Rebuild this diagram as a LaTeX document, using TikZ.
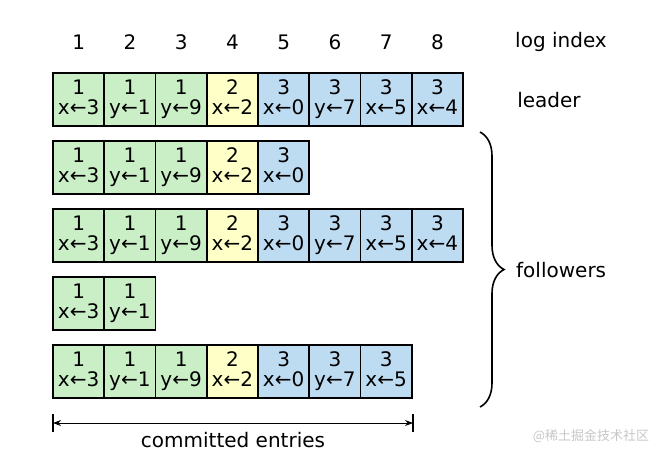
\documentclass[tikz,border=0pt]{standalone}
\usepackage{fontspec}
\setmainfont{DejaVu Sans}
\newfontfamily\cjkwm{Noto Sans CJK SC}
\usetikzlibrary{decorations.pathreplacing,arrows.meta}
\definecolor{tgreen}{HTML}{CAEFC6}
\definecolor{tyellow}{HTML}{FFFFC8}
\definecolor{tblue}{HTML}{BDDBF1}
\tikzset{
  cell/.style={draw, line width=1.6pt, minimum width=51.25pt, minimum height=53pt,
    inner sep=0pt, align=center, font=\fontsize{20}{20}\selectfont},
  lbl/.style={font=\fontsize{20}{24}\selectfont, inner sep=0pt},
}
\newcommand{\lineph}{\vphantom{1y}}
\begin{document}
\begin{tikzpicture}[x=1pt,y=-1pt]
\useasboundingbox (0,0) rectangle (668,456);
% index numbers
\foreach \i in {1,...,8} {
  \node[lbl] (idx\i) at ({53+51.25*(\i-0.5)},42) {\i};
}
\node[lbl] (logindex) at (561,42) {log index};
\node[lbl] (leader) at (549,100) {leader};
% rows
\newcommand{\logrow}[2]{%
  \foreach \t/\c/\col [count=\i] in {#2} {
    \node[cell, fill=\col] (r#1c\i) at ({53+51.25*(\i-0.5)},{99.5+68*(#1-1)}) {\t\lineph\\\c\lineph};
  }%
}
\logrow{1}{1/x←3/tgreen,1/y←1/tgreen,1/y←9/tgreen,2/x←2/tyellow,3/x←0/tblue,3/y←7/tblue,3/x←5/tblue,3/x←4/tblue}
\logrow{2}{1/x←3/tgreen,1/y←1/tgreen,1/y←9/tgreen,2/x←2/tyellow,3/x←0/tblue}
\logrow{3}{1/x←3/tgreen,1/y←1/tgreen,1/y←9/tgreen,2/x←2/tyellow,3/x←0/tblue,3/y←7/tblue,3/x←5/tblue,3/x←4/tblue}
\logrow{4}{1/x←3/tgreen,1/y←1/tgreen}
\logrow{5}{1/x←3/tgreen,1/y←1/tgreen,1/y←9/tgreen,2/x←2/tyellow,3/x←0/tblue,3/y←7/tblue,3/x←5/tblue}
% brace
\coordinate (bt) at (480,132);
\coordinate (bb) at (480,407);
\draw[line width=1.6pt, decorate, decoration={brace, amplitude=24pt}] (bt) -- (bb);
\node[lbl, anchor=west] (followers) at (516,270) {followers};
% committed entries
\coordinate (ce1) at (53,423);
\coordinate (ce2) at (413,423);
\draw[line width=0.8pt, {Stealth[length=8pt,width=6pt]}-{Stealth[length=8pt,width=6pt]}] (ce1) -- (ce2);
\draw[line width=2pt] (ce1) ++(0,-9) -- ++(0,18);
\draw[line width=2pt] (ce2) ++(0,-9) -- ++(0,18);
\node[lbl] (committed) at (233,440) {committed entries};
% watermark
\node[inner sep=0pt, text=black!22, font=\cjkwm\fontsize{13}{13}\selectfont] (wm) at (591,436) {@稀土掘金技术社区};
\end{tikzpicture}
\end{document}
